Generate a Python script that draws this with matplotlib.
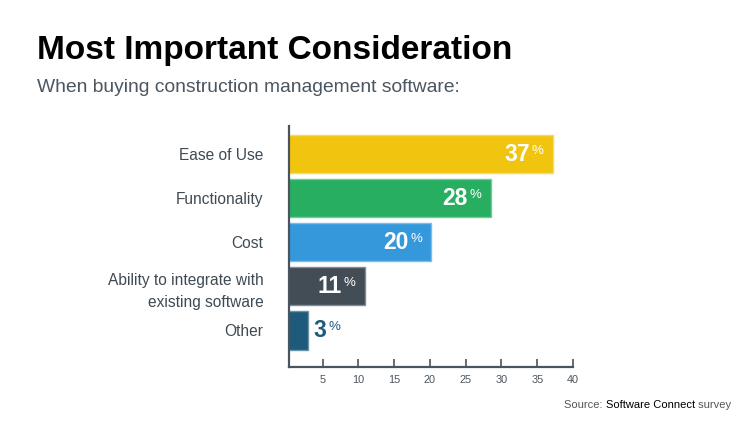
import matplotlib
matplotlib.use("Agg")
import matplotlib.pyplot as plt
from matplotlib.colors import to_rgb

plt.rcParams['font.family'] = ['Liberation Sans', 'DejaVu Sans']

categories = ["Ease of Use", "Functionality", "Cost",
              "Ability to integrate with\nexisting software", "Other"]
values = [37.2, 28.5, 20.2, 10.9, 3.0]
value_labels = ["37", "28", "20", "11", "3"]
colors = ["#F1C40F", "#27AE60", "#3498DB", "#434D56", "#1D5A7B"]
xticks = [5, 10, 15, 20, 25, 30, 35, 40]

W, H = 750, 425
fig = plt.figure(figsize=(W / 100, H / 100), dpi=100)

def fx(px):
    return px / W

def fy(py):
    return 1 - py / H

ax = fig.add_axes([fx(289), fy(367), fx(573) - fx(289), fy(126) - fy(367)])

n = len(categories)
ypos = [n - 1 - i for i in range(n)]

def lighten(c, f=0.35):
    r, g, b = to_rgb(c)
    return (r + (1 - r) * f, g + (1 - g) * f, b + (1 - b) * f)

for y, v, c in zip(ypos, values, colors):
    ax.barh(y, v, height=0.875, color=c, edgecolor=lighten(c), linewidth=1.0, zorder=2)

for i, (y, v, lab, c) in enumerate(zip(ypos, values, value_labels, colors)):
    inside = v > 6
    if inside:
        t = ax.annotate(lab, xy=(v, y), xytext=(-16.3, 0), textcoords='offset points',
                        ha='right', va='center', fontsize=16.5, fontweight='bold', color='white')
        pc = 'white'
    else:
        t = ax.annotate(lab, xy=(v, y), xytext=(3.8, 0), textcoords='offset points',
                        ha='left', va='center', fontsize=16.5, fontweight='bold', color=c)
        pc = c
    ax.annotate('%', xy=(1, 0.9), xycoords=t, xytext=(1.2, 0), textcoords='offset points',
                ha='left', va='top', fontsize=9.5, color=pc)

ax.set_xlim(0.3, 40)
ax.set_ylim(-0.834, n - 1 + 0.636)
ax.set_yticks(ypos)
ax.set_yticklabels(categories, fontsize=11.2, color="#3F4A53", linespacing=1.6,
                   multialignment='right')
ax.tick_params(axis='y', length=0, pad=18.5)
ax.set_xticks(xticks)
ax.set_xticklabels([str(t) for t in xticks], fontsize=7.8, color="#4A545C")
ax.tick_params(axis='x', direction='in', length=6, width=1.2, color="#4A545C", pad=6)

for s in ['top', 'right']:
    ax.spines[s].set_visible(False)
for s in ['left', 'bottom']:
    ax.spines[s].set_color("#4A545C")
    ax.spines[s].set_linewidth(1.6)

fig.text(fx(37), fy(59), "Most Important Consideration", fontsize=24,
         fontweight='bold', color='black', ha='left', va='baseline')
fig.text(fx(37), fy(92), "When buying construction management software:", fontsize=13.85,
         color="#4B5660", ha='left', va='baseline')

fs = 8
src = fig.text(fx(731), fy(408), " survey", fontsize=fs, color="#555555", ha='right', va='baseline')
fig.canvas.draw()
r = fig.canvas.get_renderer()
bb = src.get_window_extent(r)
src2 = fig.text(bb.x0 / W, fy(408), "Software Connect", fontsize=fs, color="black",
                ha='right', va='baseline')
bb2 = src2.get_window_extent(r)
fig.text(bb2.x0 / W, fy(408), "Source: ", fontsize=fs, color="#555555", ha='right', va='baseline')

fig.savefig("out.png", dpi=100)
